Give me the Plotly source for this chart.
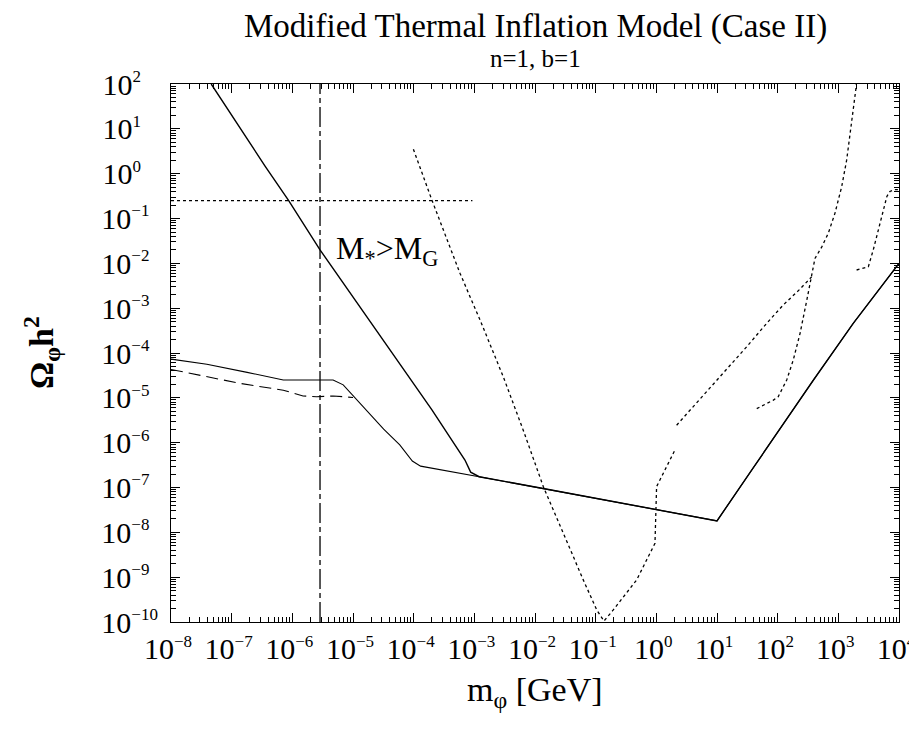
import plotly.graph_objects as go

# ---- data ----
steep_x = [4.6e-8, 1.68e-7, 3.55e-7, 8.6e-7, 2.86e-6, 2.0e-4, 7.0e-4, 8.7e-4, 1.2e-3,
           1.37e-2, 1.0, 10, 40, 389, 1762, 1e4]
steep_y = [100, 6.67, 1.48, 0.257, 2.0e-2, 5.4e-6, 4.1e-7, 2.2e-7, 1.74e-7,
           9.5e-8, 3.2e-8, 1.8e-8, 2.8e-7, 2.5e-5, 4.6e-4, 1e-2]

low_x = [1e-8, 3.9e-8, 1.8e-7, 7.1e-7, 4.7e-6, 6.9e-6, 3.2e-5, 5.9e-5, 9.5e-5, 1.3e-4, 1.2e-3,
         1.37e-2, 1.0, 10, 40, 389, 1762, 1e4]
low_y = [7.3e-5, 5.6e-5, 3.7e-5, 2.5e-5, 2.5e-5, 1.95e-5, 2.0e-6, 8.9e-7, 3.9e-7, 3.0e-7, 1.74e-7,
         9.5e-8, 3.2e-8, 1.8e-8, 2.8e-7, 2.5e-5, 4.6e-4, 1e-2]

dash_x = [1e-8, 3.0e-8, 1.38e-7, 7.1e-7, 1.5e-6, 2.5e-6, 4.7e-6, 1e-5]
dash_y = [4.3e-5, 3.2e-5, 2.1e-5, 1.48e-5, 1.1e-5, 1.06e-5, 1.1e-5, 1.02e-5]

v_x = [9.9e-5, 2.0e-4, 5.8e-4, 1.24e-3, 3.0e-3, 6.4e-3, 1.37e-2, 2.9e-2, 6.25e-2, 0.104, 0.137,
       0.195, 0.474, 0.95, 1.01, 1.22, 2.03]
v_y = [3.5, 0.257, 6.0e-3, 5.5e-4, 2.95e-5, 1.9e-6, 1.05e-7, 9.5e-9, 8.7e-10, 1.86e-10, 1.05e-10,
       1.86e-10, 8.7e-10, 5.7e-9, 1.05e-7, 1.74e-7, 6.9e-7]

diag_x = [2.16, 4.06, 12.7, 30.9, 66, 123, 229, 363]
diag_y = [2.45e-6, 6.3e-6, 3.5e-5, 1.38e-4, 4.6e-4, 1.17e-3, 2.6e-3, 5.0e-3]

rise_x = [45.2, 85, 102, 141, 181, 234, 302, 363, 412, 531, 684, 881, 1135, 1371, 1660, 1950, 2000]
rise_y = [5.75e-6, 8.9e-6, 1.06e-5, 2.5e-5, 7.0e-5, 2.75e-4, 1.5e-3, 5.0e-3, 1.29e-2, 2.3e-2,
          4.7e-2, 0.132, 0.51, 2.0, 13.2, 79, 112]

far_x = [2000, 3126, 3767, 4571, 5495, 6310, 7079, 8511, 1e4]
far_y = [7.1e-3, 8.4e-3, 2.0e-2, 5.5e-2, 0.155, 0.31, 0.40, 0.44, 0.44]

hline_x = [1e-8, 9.3e-4]
hline_y = [0.25, 0.25]

vline_x = [2.86e-6, 2.86e-6]
vline_y = [1e-10, 100]

# axis ranges (log10) and tick labels
x_range_log = [-8, 4]
y_range_log = [-10, 2]
x_exponents = [-8, -7, -6, -5, -4, -3, -2, -1, 0, 1, 2, 3, 4]
y_exponents = [-10, -9, -8, -7, -6, -5, -4, -3, -2, -1, 0, 1, 2]

SUP_STYLE = "font-size:17px"


def fmt_exp(e, pad=0):
    s = str(e).replace("-", "\u2212")
    s = s + "\u2007" * max(0, pad - len(s))
    return "10<sup><span style='" + SUP_STYLE + "'>" + s + "</span></sup>"


x_tick_vals = [10.0 ** e for e in x_exponents]
x_tick_text = [fmt_exp(e) for e in x_exponents]
y_tick_vals = [10.0 ** e for e in y_exponents]
y_tick_text = [fmt_exp(e, pad=3) for e in y_exponents]


def minor_vals(exps):
    return [k * 10.0 ** e for e in exps[:-1] for k in range(2, 10)]


SERIF = "Liberation Serif, Times New Roman, serif"
DOT = "3px,3px"

fig = go.Figure()


def add(x, y, dash="solid", width=1.4):
    fig.add_trace(go.Scatter(x=x, y=y, mode="lines", showlegend=False, hoverinfo="skip",
                             line=dict(color="black", width=width, dash=dash)))


add(steep_x, steep_y)
add(low_x, low_y, width=1.1)
add(dash_x, dash_y, dash="12px,6px", width=1.1)
add(v_x, v_y, dash=DOT, width=1.3)
add(diag_x, diag_y, dash=DOT, width=1.3)
add(rise_x, rise_y, dash=DOT, width=1.3)
add(far_x, far_y, dash=DOT, width=1.3)
add(hline_x, hline_y, dash=DOT, width=1.3)
add(vline_x, vline_y, dash="20px,4px,5px,4px", width=1.3)
# empty trace on the overlay axes that carry the minor ticks
fig.add_trace(go.Scatter(x=[], y=[], xaxis="x2", yaxis="y2", showlegend=False, hoverinfo="skip"))

axis_common = dict(
    type="log", showgrid=False, zeroline=False, automargin=False,
    showline=True, linecolor="black", linewidth=1.2, mirror="allticks",
    ticks="inside", tickwidth=1, tickcolor="black",
)

fig.update_layout(
    xaxis=dict(range=x_range_log, tickmode="array", tickvals=x_tick_vals, ticktext=x_tick_text,
               ticklen=9, tickangle=0, ticklabeloverflow="allow", ticklabelshift=-3,
               tickfont=dict(family=SERIF, size=30, color="black"), **axis_common),
    yaxis=dict(range=y_range_log, tickmode="array", tickvals=y_tick_vals, ticktext=y_tick_text,
               ticklen=9, tickangle=0, ticklabeloverflow="allow", ticklabelstandoff=6,
               tickfont=dict(family=SERIF, size=30, color="black"), **axis_common),
    xaxis2=dict(range=x_range_log, overlaying="x", anchor="y", side="bottom", tickmode="array",
                tickvals=minor_vals(x_exponents), ticklen=5, showticklabels=False, **axis_common),
    yaxis2=dict(range=y_range_log, overlaying="y", anchor="x", side="left", tickmode="array",
                tickvals=minor_vals(y_exponents), ticklen=5, showticklabels=False, **axis_common),
)

# the page body adds an 8px margin, so the figure is 8px smaller than the window
fig.update_layout(
    width=909, height=722,
    margin=dict(l=163, r=18, t=76, b=108),
    paper_bgcolor="white", plot_bgcolor="white",
    font=dict(family=SERIF, color="black"),
    annotations=[
        dict(text="Modified Thermal Inflation Model (Case II)", xref="paper", yref="paper",
             x=0.5, y=1, yshift=57.7, showarrow=False, font=dict(size=33, family=SERIF),
             xanchor="center", yanchor="middle", borderpad=0, borderwidth=0),
        dict(text="n=1, b=1", xref="paper", yref="paper",
             x=0.5, y=1, yshift=25.5, showarrow=False, font=dict(size=25, family=SERIF),
             xanchor="center", yanchor="middle", borderpad=0, borderwidth=0),
        dict(text="m<sub>φ</sub> [GeV]", xref="paper", yref="paper",
             x=0.5, y=0, yshift=-70, showarrow=False, font=dict(size=34, family=SERIF),
             xanchor="center", yanchor="middle"),
        dict(text="<b>Ω<sub>φ</sub>h<sup>2</sup></b>", xref="paper", yref="paper",
             x=0, y=0.5, xshift=-130, showarrow=False, textangle=-90,
             font=dict(size=34, family=SERIF), xanchor="center", yanchor="middle"),
        dict(text="M<sub>*</sub>>M<sub>G</sub>", xref="x", yref="y",
             x=-4.44, y=-1.72, showarrow=False, font=dict(size=32, family=SERIF),
             xanchor="center", yanchor="middle"),
    ],
)

fig.write_html("out.html")
